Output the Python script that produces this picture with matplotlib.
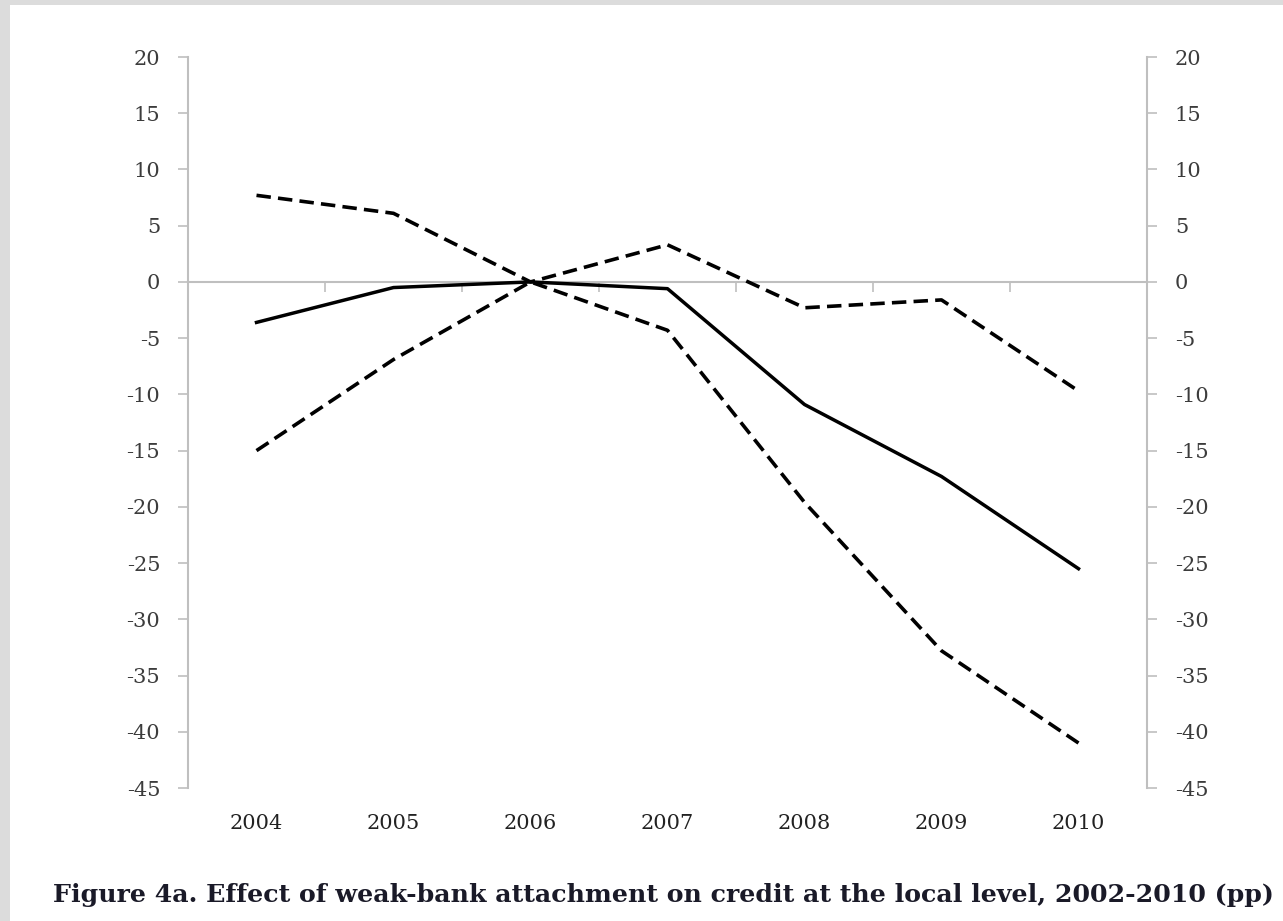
import matplotlib
matplotlib.use("Agg")
import matplotlib.pyplot as plt
from matplotlib.patches import Rectangle

# Years shown on the horizontal axis
years = ["2004", "2005", "2006", "2007", "2008", "2009", "2010"]

# Point estimate and the two confidence bounds (percentage points)
estimate = [-3.6, -0.5, 0.0, -0.6, -10.9, -17.3, -25.5]
upper_bound = [7.7, 6.1, 0.0, 3.3, -2.3, -1.6, -9.7]
lower_bound = [-15.0, -6.9, 0.0, -4.3, -19.6, -32.8, -41.0]

y_ticks = [20, 15, 10, 5, 0, -5, -10, -15, -20, -25, -30, -35, -40, -45]
caption = "Figure 4a. Effect of weak-bank attachment on credit at the local level, 2002-2010 (pp)"

W, H = 1283, 921
fig = plt.figure(figsize=(W / 100, H / 100), dpi=100, facecolor="#dcdcdc")
# white page area inside the grey frame
fig.patches.append(Rectangle((10 / W, 0), 1 - 10 / W, 1 - 5 / H,
                             transform=fig.transFigure, facecolor="white",
                             edgecolor="none", zorder=-5))

ax = fig.add_axes([188 / W, 1 - 788 / H, (1147 - 188) / W, (788 - 57) / H])
ax.set_facecolor("none")

axis_grey = "#bfbfbf"
label_grey = "#3c3c3c"
serif = "DejaVu Serif"
tick_size = 15

x = list(range(len(years)))
dash = (0, (4.0, 2.0))
ax.plot(x, upper_bound, color="black", lw=2.6, linestyle=dash, zorder=3)
ax.plot(x, lower_bound, color="black", lw=2.6, linestyle=dash, zorder=3)
ax.plot(x, estimate, color="black", lw=2.5, solid_joinstyle="round", zorder=4)

ax.set_xlim(-0.5, len(years) - 0.5)
ax.set_ylim(-45, 20)
ax.set_yticks(y_ticks)
ax.set_yticklabels([str(v) for v in y_ticks])

# horizontal axis drawn through zero, with boundary ticks between years
ax.spines["top"].set_visible(False)
ax.spines["right"].set_visible(False)
ax.spines["bottom"].set_position(("data", 0))
ax.spines["bottom"].set_color(axis_grey)
ax.spines["bottom"].set_linewidth(1.5)
ax.spines["left"].set_color(axis_grey)
ax.spines["left"].set_linewidth(1.5)
ax.set_xticks(x)
ax.tick_params(axis="x", which="major", length=0, labelbottom=False)
ax.set_xticks([i + 0.5 for i in x[:-1]], minor=True)
ax.tick_params(axis="x", which="minor", length=7, width=1.2, color=axis_grey, direction="out")
ax.tick_params(axis="y", length=7, width=1.2, color=axis_grey, pad=13,
               labelsize=tick_size, labelcolor=label_grey)
for t in ax.get_yticklabels():
    t.set_fontfamily(serif)

# year labels sit at the bottom of the plot area
sec = ax.secondary_xaxis("bottom")
sec.set_xticks(x)
sec.set_xticklabels(years)
sec.tick_params(length=0, pad=19, labelsize=tick_size, labelcolor="#222222")
sec.spines["bottom"].set_visible(False)
for t in sec.get_xticklabels():
    t.set_fontfamily(serif)

# mirrored scale on the right
ax2 = ax.twinx()
ax2.set_ylim(-45, 20)
ax2.set_yticks(y_ticks)
ax2.set_yticklabels([str(v) for v in y_ticks])
for s in ("top", "left", "bottom"):
    ax2.spines[s].set_visible(False)
ax2.spines["right"].set_color(axis_grey)
ax2.spines["right"].set_linewidth(1.5)
ax2.tick_params(axis="y", length=7, width=1.2, color=axis_grey, pad=13,
                labelsize=tick_size, labelcolor=label_grey)
for t in ax2.get_yticklabels():
    t.set_fontfamily(serif)

# caption below the chart, sized to span the page width
cap = fig.text(53 / W, 1 - 902 / H, caption, ha="left", va="baseline",
               fontsize=19, fontweight="bold", family=serif, color="#1a1a28")
renderer = fig.canvas.get_renderer()
width_px = cap.get_window_extent(renderer).width
cap.set_fontsize(19 * (1272 - 53) / width_px)

fig.savefig("out.png", dpi=100, facecolor=fig.get_facecolor())
